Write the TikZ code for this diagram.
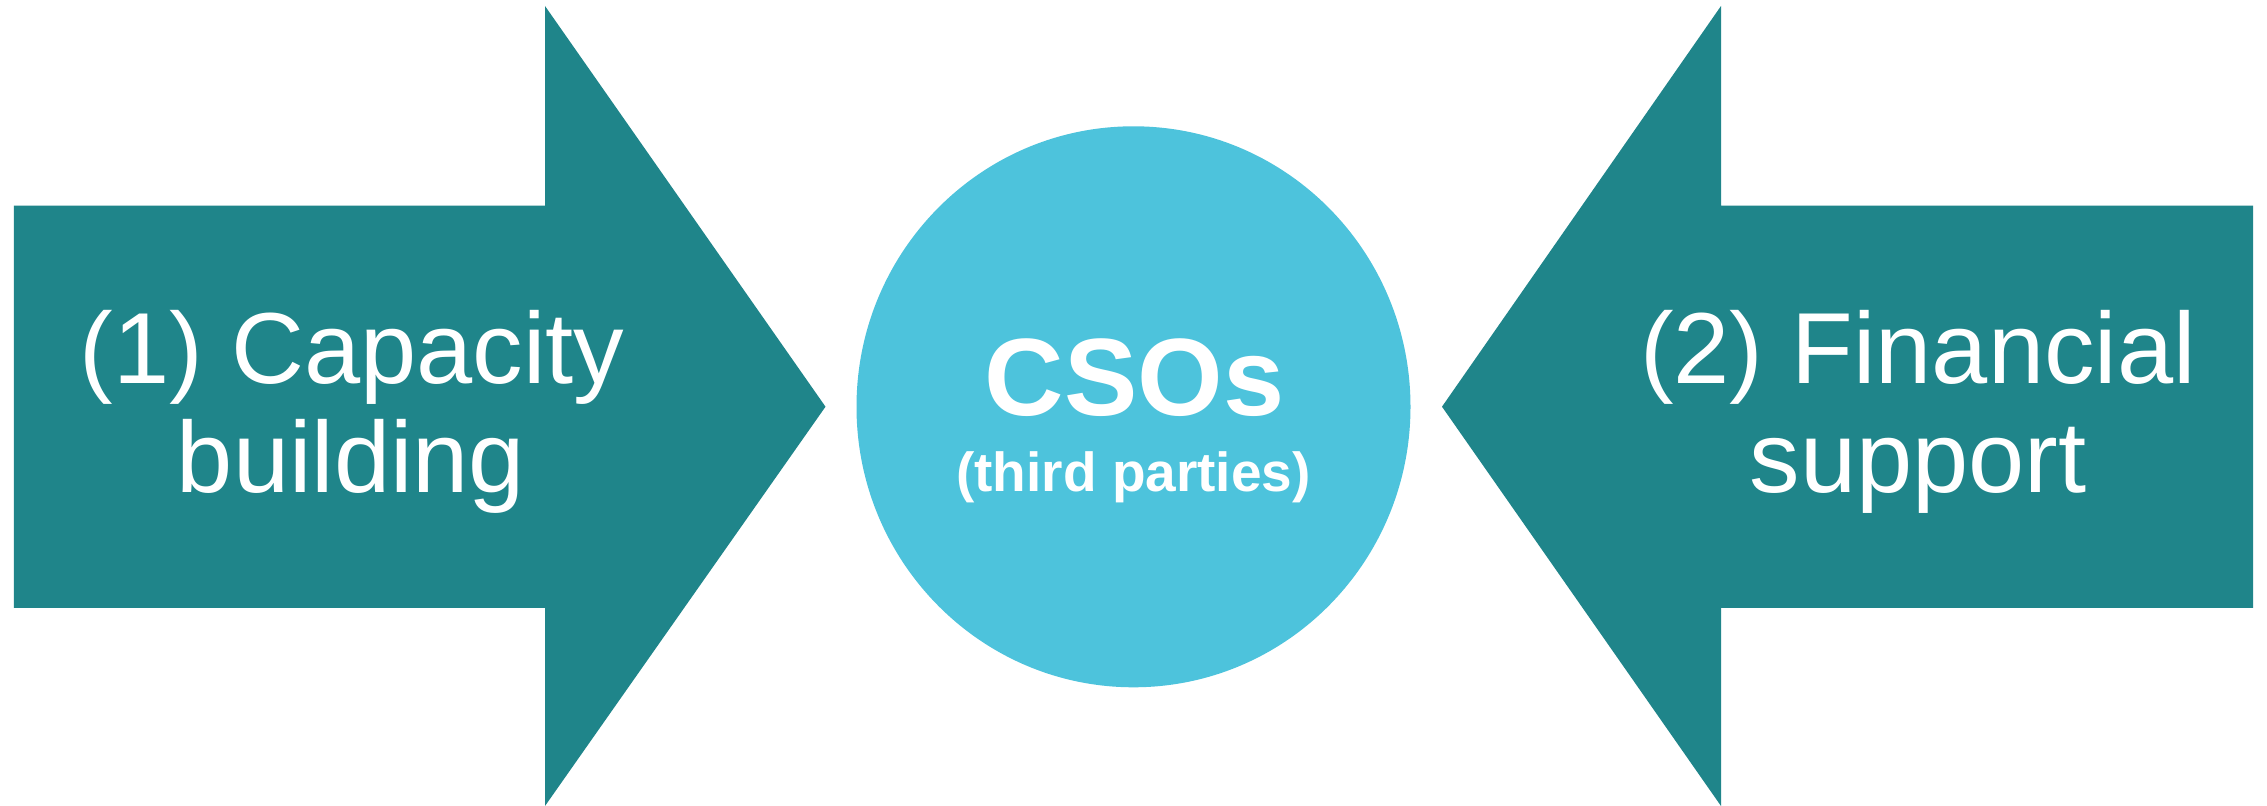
\documentclass[tikz,border=0pt]{standalone}
\usepackage{fontspec}
\setmainfont{Liberation Sans}
\definecolor{teal1}{RGB}{31,133,138}
\definecolor{sky1}{RGB}{77,195,220}
\begin{document}
\begin{tikzpicture}[x=0.5pt,y=-0.5pt,
  arrowshape/.style={fill=teal1,draw=none},
  bigtxt/.style={inner sep=0pt,anchor=base,text=white,font=\fontsize{50.5pt}{55pt}\selectfont},
  csotxt/.style={inner sep=0pt,anchor=base,text=white,font=\fontsize{55pt}{60pt}\selectfont\bfseries},
  subtxt/.style={inner sep=0pt,anchor=base,text=white,font=\fontsize{27.5pt}{30pt}\selectfont\bfseries}]
\useasboundingbox[fill=white] (0,0) rectangle (2267,806);
% left arrow
\fill[arrowshape] (13.8,205.6) -- (545,205.6) -- (545,6) -- (825.5,406.7) -- (545,806) -- (545,608) -- (13.8,608) -- cycle;
% right arrow
\fill[arrowshape] (2253,205.6) -- (1721,205.6) -- (1721,6) -- (1442,406.7) -- (1721,806) -- (1721,608) -- (2253,608) -- cycle;
% circle
\fill[sky1] (1133.5,406.8) ellipse [x radius=277, y radius=280.5];
% texts
\node[bigtxt] (l1) at (352,384) {(1) Capacity};
\node[bigtxt] (l2) at (351,493) {building};
\node[bigtxt] (r1) at (1918,384) {(2) Financial};
\node[bigtxt] (r2) at (1918,493) {support};
\node[csotxt] (c1) at (1134.5,416) {CSOs};
\node[subtxt] (c2) at (1133.5,491.5) {(third parties)};
\end{tikzpicture}
\end{document}
